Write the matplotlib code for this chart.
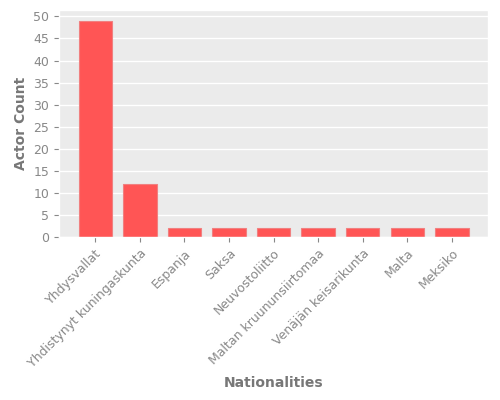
import numpy as np
import matplotlib.pyplot as plt

plt.style.use('ggplot')

nationalities = ["Yhdysvallat", "Yhdistynyt kuningaskunta", "Espanja", "Saksa",
                 "Neuvostoliitto", "Maltan kruununsiirtomaa", "Venäjän keisarikunta",
                 "Malta", "Meksiko"]
actor_count = [49, 12, 2, 2, 2, 2, 2, 2, 2]

fig = plt.figure(figsize=(5, 4), dpi=100)
ax = fig.add_axes([0.118, 0.4075, 0.858, 0.5675])
ax.set_facecolor('#EBEBEB')
x = np.arange(len(nationalities))
ax.bar(x, actor_count, width=0.75, color='#FF5555', edgecolor='#F08080', linewidth=0.8)
ax.grid(axis='x', visible=False)
ax.grid(axis='y', color='white', linewidth=1)
ax.set_axisbelow(True)
ax.set_yticks(np.arange(0, 51, 5))
ax.set_xticks(x)
ax.set_xticklabels(nationalities, rotation=45, ha='right', rotation_mode='anchor')
ax.tick_params(colors='#888888', labelsize=9, labelcolor='#888888')
ax.set_ylabel("Actor Count", fontweight='bold', color='#777777', fontsize=10)
ax.set_xlabel("Nationalities", fontweight='bold', color='#777777', fontsize=10)

plt.savefig("out.png")
